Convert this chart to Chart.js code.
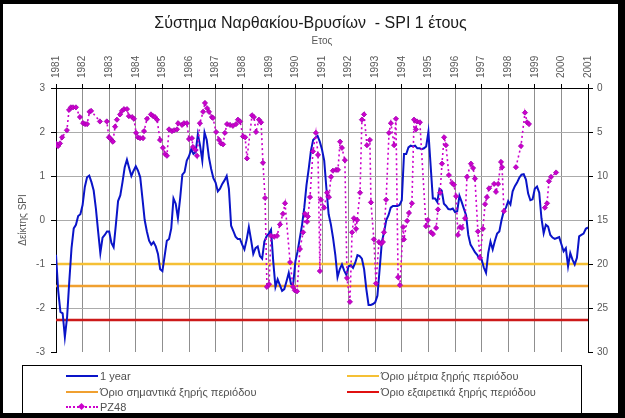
<!DOCTYPE html>
<html><head><meta charset="utf-8">
<script src="https://cdn.jsdelivr.net/npm/chart.js@4.4.1/dist/chart.umd.min.js"></script>
<style>
html,body{margin:0;padding:0;background:#000;width:625px;height:418px;overflow:hidden;}
#frame{position:absolute;left:3px;top:4px;width:615px;height:409px;background:#fff;overflow:hidden;}
#c{position:absolute;left:0;top:0;}
#legend{position:absolute;left:19px;top:361px;width:560px;height:50px;border:1px solid #000;box-sizing:border-box;font-family:"Liberation Sans",Arial,sans-serif;font-size:11px;color:#505050;}
.item{position:absolute;height:14px;line-height:14px;white-space:nowrap;}
.ln{position:absolute;top:6px;width:32px;height:0;border-top:2.5px solid;}
.tx{position:absolute;left:34px;top:0;}
.dia{position:absolute;top:4px;left:13px;width:5px;height:5px;background:#CC00CC;transform:rotate(45deg);}
</style></head>
<body>
<div id="frame">
<canvas id="c" width="615" height="409"></canvas>
<div id="legend"></div>
</div>
<script>
// ---- data ----
const chartTitle = 'Σύστημα Ναρθακίου-Βρυσίων  - SPI 1 έτους';
const xTitle = 'Ετος';
const yTitle = 'Δείκτης SPI';
const yearMin = 1981, yearMax = 2001;
const spiStart = 1981; // monthly values from January 1981
const spi1Year = [
-0.79,-1.61,-2.09,-2.12,-2.66,-2.21,-1.39,-0.64,-0.19,-0.11,0.09,0.13,
0.34,0.75,0.97,1.01,0.86,0.67,0.26,-0.26,-0.75,-0.40,-0.34,-0.26,
-0.26,-0.52,-0.62,-0.11,0.43,0.56,0.86,1.20,1.37,1.18,1.00,1.12,
1.22,1.12,0.97,0.49,0.00,-0.26,-0.47,-0.56,-0.50,-0.60,-0.77,-1.12,
-1.16,-0.82,-0.47,-0.43,-0.19,0.49,0.37,0.04,0.49,1.03,1.09,1.35,
1.45,1.61,1.50,1.54,1.95,1.69,1.35,1.99,1.82,1.42,1.16,0.95,
0.85,0.65,0.71,0.82,0.90,1.00,0.71,-0.13,-0.25,-0.38,-0.43,-0.43,
-0.56,-0.67,-0.45,-0.16,-0.45,-0.77,-0.64,-0.60,-0.82,-0.88,-0.49,-0.37,
-0.31,-0.22,-0.94,-1.52,-1.35,-1.48,-1.61,-1.57,-1.39,-1.20,-1.45,-1.46,
-0.94,-0.71,-0.41,-0.11,0.28,0.79,1.16,1.57,1.82,1.87,1.91,1.78,
1.60,1.35,0.71,0.13,-0.10,-0.41,-0.79,-1.30,-1.12,-1.01,-1.15,-1.25,
-1.05,-1.03,-1.09,-0.97,-0.80,-0.82,-0.88,-1.12,-1.57,-1.93,-1.93,-1.91,
-1.87,-1.72,-1.12,-0.50,-0.28,0.00,0.11,0.28,0.32,0.32,0.32,0.34,
0.45,1.50,1.50,1.65,1.69,1.67,1.69,1.63,1.63,1.61,1.63,1.67,
2.00,1.24,0.49,0.49,0.41,0.71,0.67,0.37,0.32,0.25,0.24,0.26,
0.18,0.20,0.55,0.41,0.26,0.11,-0.34,-0.56,-0.64,-0.73,-0.79,-0.88,
-0.90,-1.08,-1.20,-0.75,-0.49,-0.67,-0.47,-0.31,-0.26,0.00,0.20,0.28,
0.43,0.35,0.65,0.77,0.85,0.96,1.03,1.04,0.92,0.60,0.45,0.47,
0.71,0.76,0.62,0.04,-0.30,-0.11,-0.15,-0.34,-0.40,-0.43,-0.41,-0.39,
-0.55,-0.71,-0.64,-1.05,-0.75,-0.90,-1.01,-0.86,-0.37,-0.34,-0.31,-0.20,
-0.17
];
const pz48Years = [
1981.00,1981.04,1981.08,1981.15,1981.23,1981.41,1981.49,1981.56,1981.64,1981.75,1981.90,
1982.02,1982.09,1982.17,1982.26,1982.32,1982.65,1982.91,1982.99,
1983.03,1983.11,1983.14,1983.22,1983.29,1983.41,1983.48,1983.56,1983.67,1983.74,1983.86,1983.93,
1984.01,1984.08,1984.16,1984.27,1984.31,1984.42,1984.57,1984.65,1984.72,1984.80,1984.91,
1985.02,1985.10,1985.17,1985.25,1985.36,1985.44,1985.55,1985.59,1985.74,1985.81,1985.92,
1986.00,1986.11,1986.15,1986.23,1986.30,1986.41,1986.53,1986.60,1986.68,1986.75,1986.86,1986.90,
1987.02,1987.13,1987.20,1987.28,1987.35,1987.43,1987.54,1987.65,1987.77,1987.84,1987.92,
1988.03,1988.11,1988.18,1988.37,1988.44,1988.52,1988.63,1988.71,1988.78,1988.86,1988.93,
1989.01,1989.08,1989.20,1989.31,1989.42,1989.53,1989.61,1989.80,1989.91,1989.98,
1990.06,1990.17,1990.29,1990.36,1990.44,1990.47,1990.55,1990.66,1990.77,1990.85,1990.92,1990.96,
1991.08,1991.19,1991.26,1991.34,1991.41,1991.53,1991.60,1991.68,1991.75,1991.86,1991.94,
1992.05,1992.13,1992.20,1992.28,1992.32,1992.43,1992.50,1992.58,1992.69,1992.80,1992.84,1992.95,
1993.03,1993.14,1993.22,1993.29,1993.33,1993.41,1993.52,1993.59,1993.71,1993.78,1993.86,1993.93,
1994.05,1994.08,1994.20,1994.27,1994.38,1994.46,1994.53,1994.57,1994.68,1994.91,1994.98,
1995.10,1995.17,1995.29,1995.36,1995.44,1995.51,1995.59,1995.66,1995.77,1995.89,1995.96,
1996.04,1996.11,1996.19,1996.26,1996.38,1996.45,1996.60,1996.68,1996.75,1996.86,1996.94,
1997.05,1997.13,1997.20,1997.28,1997.47,1997.54,1997.62,1997.73,1997.77,1997.84,
1998.00,1998.29,1998.48,1998.63,1998.71,1998.78,
1999.00,1999.38,1999.46,1999.53,1999.61,1999.80
];
const pz48Depth = [
6.3,6.5,6.6,6.3,5.6,4.8,2.5,2.2,2.2,2.2,3.3,
4.0,4.1,4.1,2.7,2.6,3.8,3.8,5.6,
5.7,6.0,6.1,4.4,3.6,3.0,2.6,2.4,2.4,3.2,3.3,3.5,
5.1,5.6,5.7,5.7,4.9,3.5,3.0,3.2,3.3,3.6,5.9,
6.8,7.5,7.7,4.7,4.9,4.8,4.7,4.0,4.2,4.0,4.0,
5.8,5.7,6.7,7.0,7.7,4.0,2.7,1.7,2.3,2.7,3.3,3.4,
5.0,5.9,6.3,6.4,5.1,4.1,4.2,4.3,4.1,3.6,3.8,
5.5,5.6,8.0,3.1,3.3,5.0,3.6,3.9,8.5,12.5,22.6,
22.3,16.8,16.9,16.8,15.5,14.3,13.1,19.8,22.6,23.0,
23.1,18.3,16.4,14.3,15.2,14.6,12.4,7.2,5.1,7.6,20.8,12.7,
13.6,11.9,12.4,10.1,9.4,9.3,9.3,6.1,6.8,8.2,21.6,
24.3,16.4,14.8,16.0,15.0,11.9,3.6,3.0,6.5,5.9,13.0,17.2,
22.2,17.5,17.7,17.5,16.4,12.7,5.1,4.0,6.5,3.5,21.5,22.4,
15.8,17.2,15.1,14.2,13.1,3.6,4.7,3.8,3.9,15.7,15.0,
16.4,16.6,15.9,13.8,11.9,8.6,5.6,6.5,9.9,10.8,11.0,
12.3,16.7,15.8,15.9,14.8,10.1,8.6,9.1,10.3,16.3,19.3,
16.0,13.2,12.4,11.4,10.9,11.8,10.9,8.4,9.0,14.0,
null,9.0,6.6,2.8,3.9,4.1,
null,13.6,13.1,10.6,10.1,9.6
];
const thresholdModerate = -1.0;
const thresholdSevere = -1.5;
const thresholdExtreme = -2.27;
const labels = {
  spi: '1 year',
  moderate: 'Όριο μέτρια ξηρής περιόδου',
  severe: 'Όριο σημαντικά ξηρής περιόδου',
  extreme: 'Όριο εξαιρετικά ξηρής περιόδου',
  pz: 'PZ48'
};
const colors = {spi:'#0A14C8', moderate:'#F5C035', severe:'#F0A030', extreme:'#CC1A1A', pz:'#CC00CC'};

// ---- chart ----
const FONT = '"Liberation Sans", Arial, sans-serif';
function hLine(v){ return [{x:yearMin,y:v},{x:yearMax,y:v}]; }
const ctx = document.getElementById('c').getContext('2d');
new Chart(ctx, {
  type: 'line',
  data: { datasets: [
    {label:labels.pz, data:pz48Years.map((x,i)=>({x:x,y:pz48Depth[i]})), yAxisID:'y2',
     borderColor:colors.pz, borderWidth:1.6, borderDash:[2,3], pointStyle:'rectRot',
     pointRadius:2.6, pointBackgroundColor:colors.pz, pointBorderColor:'#A000B0', pointBorderWidth:0.8,
     spanGaps:false, tension:0, order:1},
    {label:labels.spi, data:spi1Year.map((v,i)=>({x:spiStart+i/12,y:v})), yAxisID:'y',
     borderColor:colors.spi, borderWidth:2, pointRadius:0, tension:0, order:2},
    {label:labels.moderate, data:hLine(thresholdModerate), yAxisID:'y', borderColor:colors.moderate, borderWidth:2.5, pointRadius:0, order:3},
    {label:labels.severe, data:hLine(thresholdSevere), yAxisID:'y', borderColor:colors.severe, borderWidth:2.5, pointRadius:0, order:3},
    {label:labels.extreme, data:hLine(thresholdExtreme), yAxisID:'y', borderColor:colors.extreme, borderWidth:2.5, pointRadius:0, order:3}
  ]},
  options: {
    responsive:false, animation:false, devicePixelRatio:1,
    layout:{padding:{left:0,right:0,top:0,bottom:61}},
    plugins:{
      legend:{display:false}, tooltip:{enabled:false},
      title:{display:true, text:chartTitle, color:'#1a1a1a', font:{family:FONT,size:16,weight:'normal'}, padding:{top:10,bottom:0}}
    },
    scales:{
      x:{type:'linear', position:'top', min:yearMin, max:yearMax,
         ticks:{stepSize:1, autoSkip:false, minRotation:90, maxRotation:90, color:'#595959', font:{family:FONT,size:10}, padding:6, labelOffset:12, callback:v=>String(v)},
         grid:{color:c=> (c.tick && (c.tick.value===yearMin||c.tick.value===yearMax)) ? 'rgba(0,0,0,0)' : '#8f8f8f', tickColor:'#000', tickLength:4, lineWidth:1},
         border:{display:true,color:'#000',width:1},
         title:{display:true, text:xTitle, color:'#595959', font:{family:FONT,size:10}, padding:{top:2,bottom:0}},
         afterFit(s){ s.height = 54.8; }},
      y:{position:'left', min:-3, max:3,
         ticks:{stepSize:1, color:'#595959', font:{family:FONT,size:10}, padding:6},
         grid:{color:c=> (c.tick && (c.tick.value===-3||c.tick.value===3)) ? 'rgba(0,0,0,0)' : '#ababab', tickColor:'#000', tickLength:5},
         border:{display:true,color:'#000',width:1},
         title:{display:true, text:yTitle, color:'#595959', font:{family:FONT,size:10}, padding:{top:14,bottom:0}},
         afterFit(s){ s.width = 53; }},
      y2:{position:'right', min:0, max:30, reverse:true,
         ticks:{stepSize:5, color:'#595959', font:{family:FONT,size:10}, padding:4},
         grid:{drawOnChartArea:false, tickColor:'#000', tickLength:5},
         border:{display:true,color:'#000',width:1},
         afterFit(s){ s.width = 30; }}
    }
  }
});

// ---- legend (HTML) ----
const legend = document.getElementById('legend');
const items = [
  {t:labels.spi, c:colors.spi, x:43, y:3},
  {t:labels.moderate, c:colors.moderate, x:324, y:3},
  {t:labels.severe, c:colors.severe, x:43, y:19},
  {t:labels.extreme, c:'#E01010', x:324, y:19},
  {t:labels.pz, c:colors.pz, x:43, y:34, dotted:true}
];
items.forEach(it=>{
  const d = document.createElement('div');
  d.className='item'; d.style.left=it.x+'px'; d.style.top=it.y+'px';
  const l = document.createElement('span'); l.className='ln';
  l.style.borderTopColor = it.c;
  if (it.dotted){ l.style.borderTopStyle='dotted'; l.style.borderTopWidth='2px'; }
  d.appendChild(l);
  if (it.dotted){ const m=document.createElement('span'); m.className='dia'; d.appendChild(m); }
  const t = document.createElement('span'); t.className='tx'; t.textContent=it.t;
  d.appendChild(t);
  legend.appendChild(d);
});
</script>
</body></html>
